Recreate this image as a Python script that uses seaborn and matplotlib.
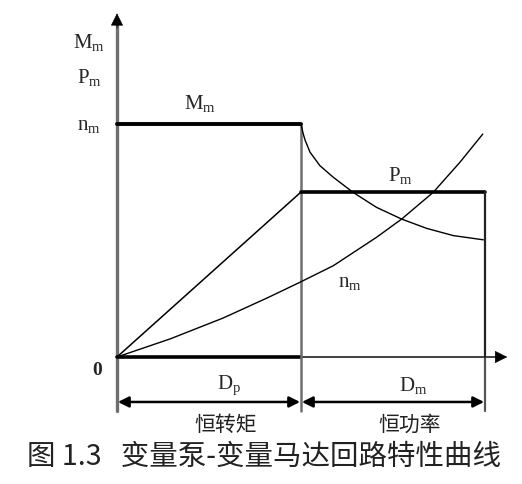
import matplotlib
matplotlib.use("Agg")
import matplotlib.pyplot as plt
import seaborn as sns
import pandas as pd

# ---- data (normalised units: x 0..2 regions, y relative to max torque) ----
torque_const_x = [0.0, 1.0]
torque_const_y = [1.0, 1.0]

torque_fall_x = [1.000, 1.004, 1.012, 1.022, 1.049, 1.103, 1.176, 1.284, 1.411, 1.547, 1.683, 1.828, 1.991]
torque_fall_y = [1.000, 0.985, 0.958, 0.931, 0.879, 0.821, 0.771, 0.706, 0.642, 0.592, 0.552, 0.521, 0.503]

power_x = [0.0, 1.0, 2.0, 2.0]
power_y = [0.0, 0.708, 0.708, 0.0]

speed_x = [0.0, 0.29, 0.576, 0.815, 0.995, 1.176, 1.411, 1.547, 1.719, 1.864, 1.988]
speed_y = [0.0, 0.078, 0.167, 0.253, 0.321, 0.392, 0.514, 0.592, 0.707, 0.836, 0.957]

region_edges = [0.0, 1.0, 2.0]
region_names = ["恒转矩", "恒功率"]
region_vars = [r"$\mathrm{D_p}$", r"$\mathrm{D_m}$"]
y_axis_labels = [r"$\mathrm{M_m}$", r"$\mathrm{P_m}$", r"$\mathrm{n_m}$"]
caption = "图 1.3   变量泵-变量马达回路特性曲线"

sns.set_theme(style="white")
plt.rcParams["font.family"] = ["Liberation Serif", "DejaVu Sans"]
plt.rcParams["mathtext.fontset"] = "custom"
plt.rcParams["mathtext.rm"] = "Liberation Serif"
plt.rcParams["mathtext.it"] = "Liberation Serif:italic"

fig = plt.figure(figsize=(5.22, 4.85), dpi=100)
ax = fig.add_axes([0, 0, 1, 1])
ax.set_xlim(-117 / 184, 405 / 184)
ax.set_ylim(-127 / 233, 358 / 233)
ax.axis("off")

def line(x, y, **kw):
    df = pd.DataFrame({"x": x, "y": y})
    sns.lineplot(data=df, x="x", y="y", sort=False, estimator=None, ax=ax, **kw)

ybot = -0.232
# y axis (gray) with black arrow head
line([0, 0], [ybot, 1.44], color="#6e6e6e", lw=2.4)
ax.annotate("", xy=(0, 1.487), xytext=(0, 1.40),
            arrowprops=dict(arrowstyle="-|>", color="black", lw=0.5, mutation_scale=20))
# x axis
line([0, 1], [0, 0], color="black", lw=2.6)
line([1, 2.08], [0, 0], color="#333333", lw=1.3)
ax.annotate("", xy=(2.136, 0), xytext=(2.05, 0),
            arrowprops=dict(arrowstyle="-|>", color="black", lw=0.5, mutation_scale=20))

# verticals
line([1, 1], [ybot, 1.0], color="#6e6e6e", lw=1.8)
line([2, 2], [ybot, 0.0], color="#555555", lw=1.6)

# torque
line(torque_const_x, torque_const_y, color="black", lw=2.8)
line(torque_fall_x, torque_fall_y, color="black", lw=1.0)
# power
line(power_x[:2], power_y[:2], color="black", lw=1.1)
line(power_x[1:3], power_y[1:3], color="black", lw=2.6)
line(power_x[2:], power_y[2:], color="#222222", lw=1.6)
# speed
line(speed_x, speed_y, color="black", lw=1.0)

# dimension arrows
ydim = -0.193
for a, b in zip(region_edges[:-1], region_edges[1:]):
    ax.annotate("", xy=(a + 0.005, ydim), xytext=(b - 0.005, ydim),
                arrowprops=dict(arrowstyle="<|-|>", color="black", lw=1.8,
                                mutation_scale=16, shrinkA=0, shrinkB=0))

fs = 15
for lab, yy in zip(y_axis_labels, [1.356, 1.202, 0.996]):
    ax.text(-0.152, yy, lab, ha="center", va="center", fontsize=fs)
ax.text(0.451, 1.094, r"$\mathrm{M_m}$", ha="center", va="center", fontsize=fs)
ax.text(1.538, 0.785, r"$\mathrm{P_m}$", ha="center", va="center", fontsize=fs)
ax.text(1.266, 0.322, r"$\mathrm{n_m}$", ha="center", va="center", fontsize=fs)
ax.text(-0.109, -0.052, "0", ha="center", va="center", fontsize=14, fontweight="bold")

for name, var, a, b in zip(region_names, region_vars, region_edges[:-1], region_edges[1:]):
    cx = (a + b) / 2
    ax.text(cx + 0.11, -0.116, var, ha="center", va="center", fontsize=fs)
    ax.text(cx + 0.09, -0.288, name, ha="center", va="center", fontsize=15,
            family=["Noto Sans CJK SC", "DejaVu Sans"], color="#222222")

ax.text(0.80, -0.425, caption, ha="center", va="center", fontsize=20.5,
        family=["Noto Sans CJK SC", "DejaVu Sans"], color="#222222")

fig.savefig("out.png", dpi=100)
